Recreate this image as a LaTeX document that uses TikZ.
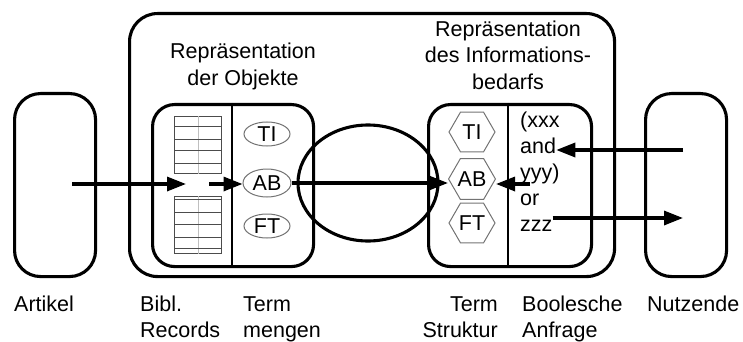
\documentclass[tikz,border=0pt]{standalone}
\usepackage{fontspec}
\setmainfont{Liberation Sans}
\usetikzlibrary{arrows.meta,shapes.geometric}
\begin{document}
\begin{tikzpicture}[x=1pt,y=-1pt,
  font=\fontsize{21.5}{26}\selectfont,
  rbox/.style={draw,line width=3.1pt,rounded corners=#1,inner sep=0pt,anchor=north west},
  divider/.style={line width=1.1pt},
  oval/.style={draw=black!55,line width=1pt,ellipse,inner sep=0pt,minimum width=46pt,minimum height=24pt},
  hexa/.style={draw=black!55,line width=1pt,regular polygon,regular polygon sides=6,inner sep=0pt,minimum size=46pt},
  rec/.style={draw=black!70,line width=0.9pt},
  recmid/.style={draw=black!25,line width=0.6pt},
  flow/.style={line width=3.3pt,-{Triangle[length=19pt,width=14pt]}},
  lbl/.style={inner sep=0pt,align=left,anchor=base west},
  txt/.style={inner sep=0pt,anchor=base west}
]
\useasboundingbox (0,0) rectangle (743,342);

% outer frames
\node[rbox=26pt,minimum width=81pt,minimum height=183pt] (artikel) at (13,92) {};
\node[rbox=26pt,minimum width=81pt,minimum height=183pt] (nutzer) at (644,92) {};
\node[rbox=28pt,minimum width=485pt,minimum height=263pt] (system) at (128,12) {};

% inner frames
\node[rbox=22pt,minimum width=161pt,minimum height=162pt] (objbox) at (151,103) {};
\node[rbox=22pt,minimum width=163pt,minimum height=162pt] (infobox) at (427,103) {};
\draw[divider] (232,103) -- (232,265);
\draw[divider] (508,103) -- (508,265);

% titles (anchored at the baseline of their last line)
\node[anchor=base,align=center,inner sep=0pt] (titleL) at (243,85) {Repräsentation\\der Objekte};
\node[anchor=base,align=center,inner sep=0pt] (titleR) at (508,89) {Repräsentation\\des Informations-\\bedarfs};

% bibliographic record stacks
\node[rec,inner sep=0pt,minimum width=47pt,minimum height=57.3pt,anchor=north west] (recA) at (174,115.7) {};
\node[rec,inner sep=0pt,minimum width=47pt,minimum height=57pt,anchor=north west] (recB) at (174,196) {};
\draw[recmid] (recA.north) -- (recA.south);
\draw[recmid] (recB.north) -- (recB.south);
\foreach \yy in {126.7,139.3,150.3,163.3}
  \draw[rec] (174,\yy) -- (221,\yy);
\foreach \yy in {199,212,224,237,248}
  \draw[rec] (174,\yy) -- (221,\yy);

% term sets
\node[oval] (tiE) at (267,134) {TI};
\node[oval,minimum width=48pt,minimum height=28pt] (abE) at (267,183) {AB};
\node[oval] (ftE) at (267,226) {FT};

% term structure
\node[hexa] (tiH) at (472,132) {TI};
\node[hexa] (abH) at (472,179) {AB};
\node[hexa] (ftH) at (472,223) {FT};

% boolean query
\node[txt] (q1) at (520,127) {(xxx};
\node[txt] (q2) at (520,153) {and};
\node[txt] (q3) at (520,179) {yyy)};
\node[txt] (q4) at (520,205) {or};
\node[txt] (q5) at (520,231) {zzz};

% matching ellipse
\node[draw,ellipse,line width=3.1pt,minimum width=140pt,minimum height=116pt,inner sep=0pt] (match) at (368,183) {};

% connector end points
\coordinate (artOut) at (72,184);
\coordinate (recIn) at (186,184);
\coordinate (recOut) at (209,184);
\coordinate (userQ) at (683,150);
\coordinate (qOut) at (530,184);
\coordinate (userIn) at (683,218);

% flows
\draw[flow] (artOut) -- (recIn);
\draw[flow] (recOut) -- (abE.west |- recOut);
\draw[flow] (abE.east) -- (abH.west |- abE.east);
\draw[flow] (userQ) -- (userQ -| q2.east);
\draw[flow] (qOut) -- (qOut -| abH.east);
\draw[flow] (q5.east |- userIn) -- (userIn);

% captions
\node[txt] (cArt) at (14,311) {Artikel};
\node[lbl] (cRec) at (140,337) {Bibl.\\Records};
\node[lbl] (cSet) at (243,337) {Term\\mengen};
\node[inner sep=0pt,align=right,anchor=base east] (cStr) at (498,337) {Term\\Struktur};
\node[lbl] (cQry) at (522,337) {Boolesche\\Anfrage};
\node[txt] (cUsr) at (647,311) {Nutzende};
\end{tikzpicture}
\end{document}
